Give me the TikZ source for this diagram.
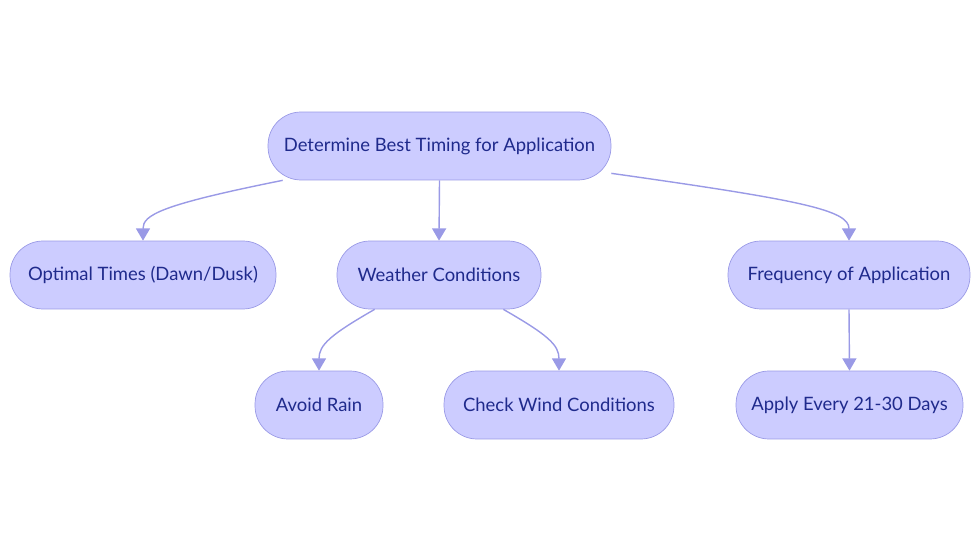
\documentclass[tikz,border=0pt]{standalone}
\usepackage{fontspec}
\setmainfont{Lato}
\usetikzlibrary{arrows.meta}
\definecolor{boxfill}{HTML}{CCCCFF}
\definecolor{boxline}{HTML}{9A9AE6}
\definecolor{boxtext}{HTML}{1F2A8C}
\begin{document}
\begin{tikzpicture}[
    x=0.02cm, y=-0.02cm,
    stage/.style={draw=boxline, fill=boxfill, text=boxtext, rounded corners=0.66cm,
        minimum height=1.36cm, inner sep=0pt, font=\fontsize{10.5}{12}\selectfont},
    link/.style={draw=boxline, thick, -{Triangle[length=7pt,width=8pt]}}
]
    \useasboundingbox (0,0) rectangle (980,553);

    % Nodes
    \node[stage, minimum width=6.86cm] (root) at (439.5,146) {Determine Best Timing for Application};
    \node[stage, minimum width=5.32cm] (optimal) at (143,275) {Optimal Times (Dawn/Dusk)};
    \node[stage, minimum width=4.08cm] (weather) at (439,275) {Weather Conditions};
    \node[stage, minimum width=4.84cm] (freq) at (849,275) {Frequency of Application};
    \node[stage, minimum width=2.56cm] (rain) at (319,405) {Avoid Rain};
    \node[stage, minimum width=4.60cm] (wind) at (559,405) {Check Wind Conditions};
    \node[stage, minimum width=4.54cm] (apply) at (849.5,405) {Apply Every 21-30 Days};

    % Connectors
    \draw[link] ([xshift=0.3cm]root.south west) .. controls (160,205) and (143,215) .. (optimal.north);
    \draw[link] (root.south) -- (weather.north);
    \draw[link] ([yshift=0.14cm]root.south east) .. controls (800,200) and (849,210) .. (freq.north);
    \draw[link] ([xshift=0.76cm]weather.south west) .. controls (330,335) and (319,345) .. (rain.north);
    \draw[link] ([xshift=-0.76cm]weather.south east) .. controls (548,335) and (559,345) .. (wind.north);
    \draw[link] (freq.south) -- (apply.north);
\end{tikzpicture}
\end{document}
